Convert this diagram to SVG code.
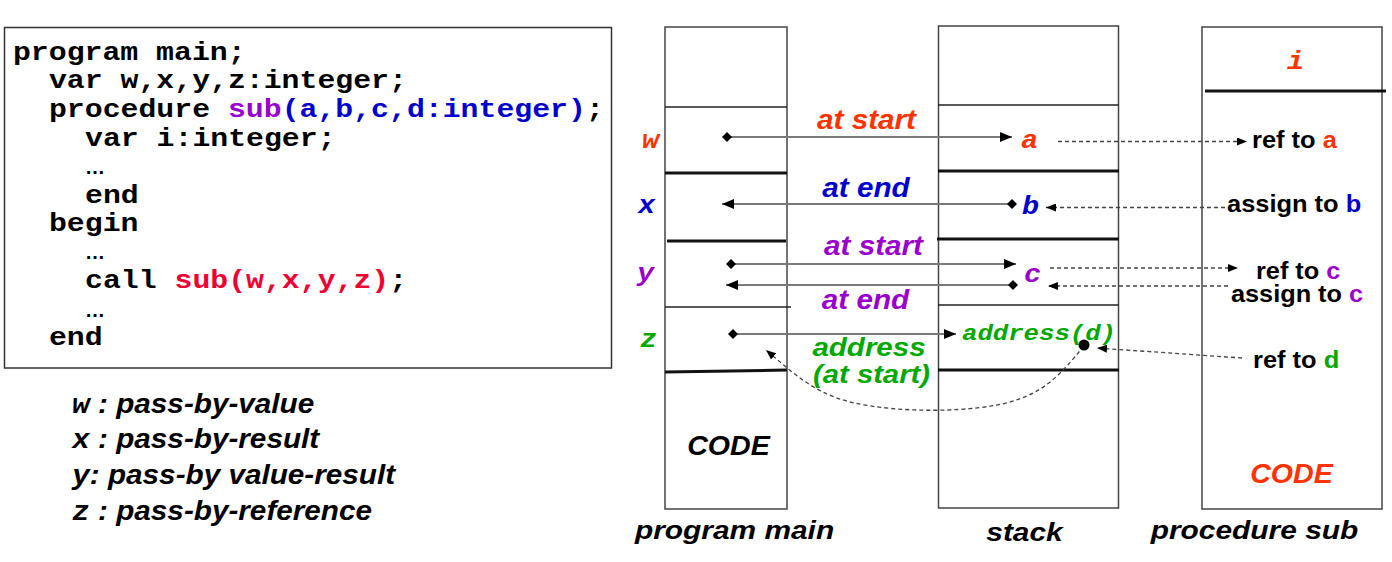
<svg xmlns="http://www.w3.org/2000/svg" width="1392" height="562" viewBox="0 0 1392 562">
<style>
.mono{font-family:"Liberation Mono","Courier New",monospace;font-weight:bold}
.monoi{font-family:"Liberation Mono","Courier New",monospace;font-weight:bold;font-style:italic}
.sbi{font-family:"Liberation Sans",Arial,sans-serif;font-weight:bold;font-style:italic}
.sb{font-family:"Liberation Sans",Arial,sans-serif;font-weight:bold}
.col{fill:#fff;stroke:#444;stroke-width:1.5}
.thin{stroke:#222;stroke-width:1.5}
.thick{stroke:#111;stroke-width:3}
.solid{stroke:#7a7a7a;stroke-width:2;fill:none}
.dash{stroke:#444;stroke-width:1.3;stroke-dasharray:4,3;fill:none}
.or{fill:#FF3300}.bl{fill:#0000CC}.pu{fill:#9900CC}.gr{fill:#00A800}.rd{fill:#EE0033}.bk{fill:#000}
</style>
<defs>
<marker id="ah" viewBox="0 0 12 10" refX="12" refY="5" markerWidth="12" markerHeight="10" markerUnits="userSpaceOnUse" orient="auto"><path d="M0,0 L12,5 L0,10 z" fill="#000"/></marker>
<marker id="ahs" viewBox="0 0 10 8" refX="10" refY="4" markerWidth="10" markerHeight="8" markerUnits="userSpaceOnUse" orient="auto"><path d="M0,0 L10,4 L0,8 z" fill="#000"/></marker>
<marker id="dm" viewBox="0 0 10 10" refX="5" refY="5" markerWidth="10" markerHeight="10" markerUnits="userSpaceOnUse" orient="auto"><path d="M0,5 L5,0 L10,5 L5,10 z" fill="#000"/></marker>
</defs>

<g id="code">
<rect x="4.5" y="27.5" width="607" height="340.5" fill="#fff" stroke="#333" stroke-width="1.5"/>
<g class="mono" font-size="26.5" transform="scale(1.126,1)">
<text x="11.5" y="60">program main;</text>
<text x="43.5" y="88">var w,x,y,z:integer;</text>
<text x="43.5" y="117">procedure <tspan class="pu">sub</tspan><tspan class="bl">(a,b,c,d:integer)</tspan>;</text>
<text x="75.5" y="146">var i:integer;</text>
<text x="75.5" y="203">end</text>
<text x="43.5" y="231">begin</text>
<text x="75.5" y="288">call <tspan class="rd">sub(w,x,y,z)</tspan>;</text>
<text x="43.5" y="345">end</text>
</g>
<g class="sb" font-size="20">
<text x="85" y="174">…</text>
<text x="85" y="259">…</text>
<text x="85" y="317">…</text>
</g>
</g>

<g id="legend" font-size="27">
<text transform="translate(72,413) scale(1.1,1)"><tspan class="monoi">w</tspan><tspan class="sbi"> : pass-by-value</tspan></text>
<text transform="translate(72,448) scale(1.1,1)"><tspan class="monoi">x</tspan><tspan class="sbi"> : pass-by-result</tspan></text>
<text transform="translate(72,484) scale(1.1,1)"><tspan class="monoi">y</tspan><tspan class="sbi">: pass-by value-result</tspan></text>
<text transform="translate(72,520) scale(1.1,1)"><tspan class="monoi">z</tspan><tspan class="sbi"> : pass-by-reference</tspan></text>
</g>

<g id="program-main">
<rect class="col" x="665" y="27" width="122" height="482"/>
<line class="thin" x1="665" y1="107" x2="787" y2="107"/>
<line class="thick" x1="665" y1="173" x2="787" y2="173"/>
<line class="thick" x1="667" y1="241" x2="786" y2="241"/>
<line class="thin" x1="665" y1="307" x2="791" y2="307"/>
<line class="thick" x1="665" y1="372" x2="787" y2="370"/>
<text class="sbi bk" font-size="27" text-anchor="middle" transform="translate(728.5,455) scale(1.06,1)">CODE</text>
<text class="sbi bk" font-size="26" text-anchor="middle" transform="translate(734.5,539) scale(1.15,1)">program main</text>
</g>

<g id="stack">
<rect class="col" x="938.5" y="26" width="180" height="482"/>
<line class="thin" x1="938" y1="105" x2="1119" y2="105"/>
<line class="thick" x1="938" y1="171" x2="1119" y2="171"/>
<line class="thick" x1="937" y1="239" x2="1119" y2="239"/>
<line class="thin" x1="938" y1="305" x2="1119" y2="305"/>
<line class="thick" x1="938" y1="370" x2="1119" y2="370"/>
<text class="sbi bk" font-size="26" text-anchor="middle" transform="translate(1024.5,541) scale(1.15,1)">stack</text>
</g>

<g id="procedure-sub">
<rect class="col" x="1202" y="27" width="180" height="482"/>
<line class="thick" x1="1205" y1="91" x2="1386" y2="91"/>
<text class="monoi or" font-size="26" transform="translate(1287,69) scale(1.1,1)">i</text>
<text class="sbi or" font-size="27" text-anchor="middle" transform="translate(1291.5,483) scale(1.06,1)">CODE</text>
<text class="sbi bk" font-size="26" text-anchor="middle" transform="translate(1254.5,539) scale(1.15,1)">procedure sub</text>
</g>

<g id="labels" font-size="26">
<text class="monoi or" transform="translate(642,148) scale(1.1,1)">w</text>
<text class="monoi bl" transform="translate(638,213) scale(1.1,1)">x</text>
<text class="monoi pu" transform="translate(637,281) scale(1.1,1)">y</text>
<text class="monoi gr" transform="translate(640,347) scale(1.1,1)">z</text>
<text class="monoi or" transform="translate(1021,148) scale(1.1,1)">a</text>
<text class="monoi bl" transform="translate(1022,214) scale(1.1,1)">b</text>
<text class="monoi pu" transform="translate(1024,282) scale(1.1,1)">c</text>
<text class="monoi gr" font-size="22" transform="translate(962,340) scale(1.167,1)">address(d)</text>
<text class="sbi or" font-size="27" text-anchor="middle" transform="translate(866.5,129) scale(1.1,1)">at start</text>
<text class="sbi bl" font-size="27" text-anchor="middle" transform="translate(866,197) scale(1.1,1)">at end</text>
<text class="sbi pu" font-size="27" text-anchor="middle" transform="translate(873.5,255) scale(1.1,1)">at start</text>
<text class="sbi pu" font-size="27" text-anchor="middle" transform="translate(865.5,309) scale(1.1,1)">at end</text>
<text class="sbi gr" font-size="25" text-anchor="middle" transform="translate(869,356) scale(1.18,1)">address</text>
<text class="sbi gr" font-size="25" text-anchor="middle" transform="translate(871.5,383) scale(1.17,1)">(at start)</text>
<text class="sb bk" font-size="24" transform="translate(1252,148) scale(1.06,1)">ref to <tspan class="or">a</tspan></text>
<text class="sb bk" font-size="24" transform="translate(1227,212) scale(1.06,1)">assign to <tspan class="bl">b</tspan></text>
<text class="sb bk" font-size="23" transform="translate(1256,279) scale(1.1,1)">ref to <tspan class="pu">c</tspan></text>
<text class="sb bk" font-size="23" transform="translate(1231,302) scale(1.1,1)">assign to <tspan class="pu">c</tspan></text>
<text class="sb bk" font-size="24" transform="translate(1253,368) scale(1.06,1)">ref to <tspan class="gr">d</tspan></text>
</g>

<g id="connectors">
<line class="solid" x1="727" y1="137" x2="1012" y2="137" marker-start="url(#dm)" marker-end="url(#ah)"/>
<line class="solid" x1="1012" y1="204" x2="722" y2="204" marker-start="url(#dm)" marker-end="url(#ah)"/>
<line class="solid" x1="731" y1="264" x2="1016" y2="264" marker-start="url(#dm)" marker-end="url(#ah)"/>
<line class="solid" x1="1013" y1="285" x2="726" y2="285" marker-start="url(#dm)" marker-end="url(#ah)"/>
<line class="solid" x1="733" y1="334" x2="956" y2="334" marker-start="url(#dm)" marker-end="url(#ah)"/>
<line class="dash" x1="1058" y1="141.5" x2="1247" y2="141.5" marker-end="url(#ahs)"/>
<line class="dash" x1="1225" y1="207.5" x2="1046" y2="207.5" marker-end="url(#ahs)"/>
<line class="dash" x1="1050" y1="268" x2="1238" y2="268" marker-end="url(#ahs)"/>
<line class="dash" x1="1228" y1="286" x2="1048" y2="286" marker-end="url(#ahs)"/>
<line class="dash" x1="1242" y1="358" x2="1097" y2="348" marker-end="url(#ahs)"/>
<path class="dash" d="M1084,346 C1060,375 1045,392 1010,402 C975,412 900,414 850,402 C812,392 792,372 766,350" marker-end="url(#ahs)"/>
<circle cx="1084" cy="345" r="5.5" fill="#000"/>
</g>
</svg>
